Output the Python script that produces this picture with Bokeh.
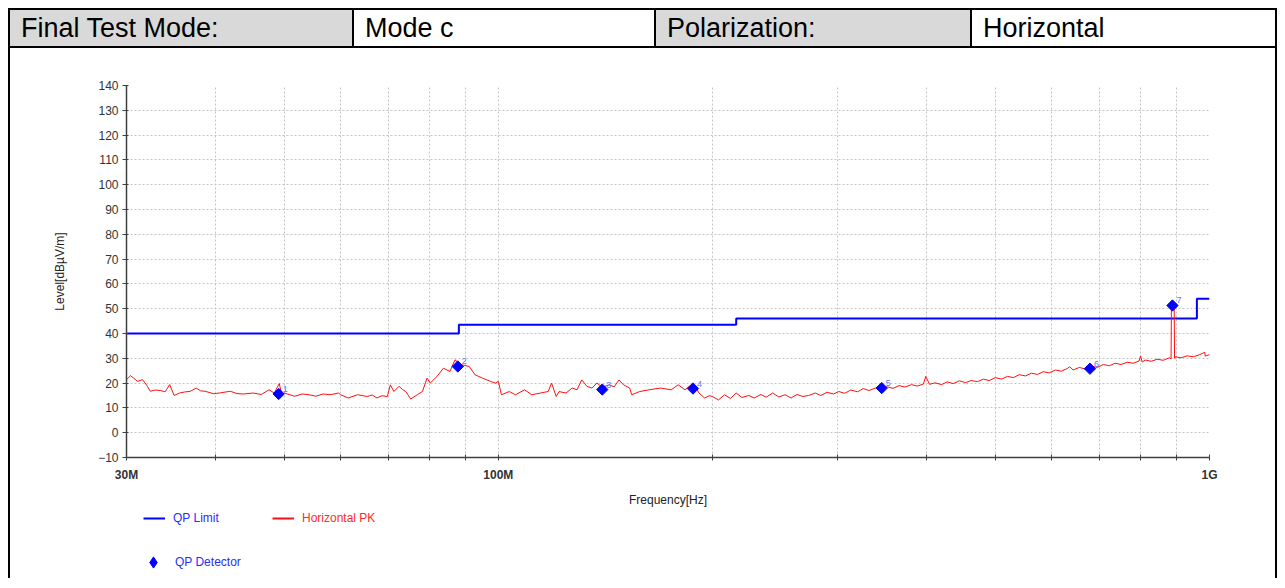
import numpy as np
from bokeh.plotting import figure
from bokeh.models import (Div, FixedTicker, Legend, LegendItem, ColumnDataSource, Range1d)
from bokeh.layouts import column, row
from bokeh.embed import file_html
from bokeh.resources import INLINE
from bokeh.core.properties import value

# ---------------- data ----------------
header_labels = ["Final Test Mode:", "Mode c", "Polarization:", "Horizontal"]

limit_freq_mhz = [30, 88, 216, 960, 1000]
limit_level = [40, 43.5, 46, 54, 54]

pk_freq_mhz = [
    30.0, 30.4, 30.7, 31.1, 31.6, 32.1, 32.4, 32.9, 33.5, 34.0, 34.5, 35.0, 35.6, 36.2, 36.9,
    37.6, 38.1, 38.7, 39.8, 40.7, 42.0, 42.9, 43.8, 45.2, 46.4, 47.6, 48.4, 49.2, 49.6, 50.0,
    51.7, 53.0, 54.2, 55.4, 56.7, 58.0, 59.6, 60.0, 61.5, 63.4, 65.4, 66.5, 67.5, 68.6, 69.8,
    70.5, 71.3, 72.5, 73.4, 74.1, 75.3, 76.9, 78.2, 79.4, 80.2, 82.0, 83.7, 85.5, 86.9, 88.4,
    91.0, 92.7, 95.0, 97.5, 99.0, 100.0, 101.0, 103.6, 105.7, 108.9, 111.4, 114.6, 117.5, 118.8, 120.6,
    121.7, 124.5, 127.0, 129.0, 131.0, 133.2, 135.4, 137.6, 140.0, 143.1, 145.5, 147.8, 150.0, 153.0, 154.0,
    158.0, 163.0, 169.0, 175.0, 179.0, 183.0, 188.0, 191.5, 195.0, 198.0,
    200, 204, 208, 212, 216, 220, 225, 229, 234, 238, 243, 248, 253, 258, 263, 268, 273, 279, 284, 290,
    296, 301, 307, 313, 320, 326, 332, 339, 345, 352, 359, 366, 373, 381, 388, 396, 399, 404, 411, 420,
    428, 436, 445, 454, 462, 472, 481, 490, 500, 510, 520, 530, 540, 551, 562, 573, 584, 595, 607, 619,
    631, 636, 643, 656, 669, 682, 695, 709, 723, 737, 751, 766, 781, 796, 800, 804, 812, 828, 844, 861,
    878, 883, 884, 892, 893, 895, 912, 930, 949, 967, 985, 986, 1000,
]
pk_level = [
    21.4, 23.0, 22.0, 20.7, 21.4, 18.7, 16.7, 17.2, 17.0, 16.5, 19.4, 15.0, 16.0, 16.4, 16.7,
    18.0, 16.9, 16.7, 15.7, 16.1, 16.7, 15.8, 15.6, 16.0, 15.4, 17.3, 16.0, 19.8, 15.2, 16.0,
    14.7, 15.6, 15.3, 14.7, 15.6, 15.3, 16.0, 15.3, 14.0, 15.3, 14.6, 15.2, 14.0, 14.9, 14.6,
    19.3, 16.6, 18.7, 17.3, 16.6, 13.6, 15.3, 16.6, 22.0, 20.0, 22.7, 26.0, 24.7, 29.4, 27.5,
    26.7, 23.4, 22.0, 20.7, 20.0, 20.7, 15.3, 16.6, 15.3, 17.3, 15.3, 16.0, 16.6, 20.0, 14.6,
    16.6, 16.0, 18.0, 17.3, 21.3, 18.7, 18.0, 20.0, 18.3, 19.3, 18.5, 21.3, 19.3, 18.0, 15.3,
    16.6, 17.3, 18.0, 17.3, 19.3, 17.3, 20.0, 16.0, 14.0, 14.9,
    14.6, 13.2, 15.3, 13.8, 16.0, 14.2, 15.0, 14.0, 15.4, 14.3, 16.0, 14.4, 15.3, 14.0, 15.4, 14.6, 15.0, 16.0, 15.0, 16.3,
    15.6, 16.6, 15.9, 17.2, 16.5, 17.8, 17.0, 18.0, 17.6, 18.5, 17.9, 19.0, 18.4, 19.4, 18.8, 19.6, 22.7, 19.5, 20.1, 19.4,
    20.5, 19.8, 20.9, 20.2, 21.0, 20.6, 21.6, 21.0, 22.2, 21.6, 22.7, 22.2, 23.4, 22.9, 24.0, 23.5, 24.6, 24.1, 25.3, 24.8,
    25.9, 26.6, 25.3, 26.3, 25.7, 26.9, 26.3, 27.5, 27.0, 28.0, 27.5, 28.4, 28.0, 28.9, 31.0, 28.5, 29.3, 28.8, 29.6, 29.2,
    30.2, 29.8, 51.0, 51.0, 30.0, 30.6, 30.2, 31.0, 30.6, 31.4, 32.4, 30.9, 31.5,
]

qp_freq_mhz = [49.1, 87.7, 140.0, 187.8, 346.0, 679.0, 887.0]
qp_level = [15.6, 26.7, 17.4, 17.8, 18.0, 25.8, 51.3]
qp_labels = ["1", "2", "3", "4", "5", "6", "7"]

y_ticks = [-10, 0, 10, 20, 30, 40, 50, 60, 70, 80, 90, 100, 110, 120, 130, 140]
x_ticks = [30, 40, 50, 60, 70, 80, 90, 100, 200, 300, 400, 500, 600, 700, 800, 900, 1000]
x_tick_labels = {30: "30M", 100: "100M", 1000: "1G"}

FONT = "Liberation Sans"
BLUE = "#0000ff"
RED = "#ff1010"

# ---------------- header ----------------
cells = [(2, 342, "#d9d9d9"), (346, 300, "#ffffff"), (648, 314, "#d9d9d9"), (964, 303, "#ffffff")]
html = ('<div style="position:relative;width:1269px;height:40px;background:#000;'
        'font-family:\'Liberation Sans\',Arial,sans-serif;font-size:27px;color:#000;">')
for (left, w, bg), txt in zip(cells, header_labels):
    html += ('<div style="position:absolute;top:2px;left:%dpx;width:%dpx;height:36px;'
             'background:%s;line-height:37px;padding-left:11px;box-sizing:border-box;'
             'white-space:nowrap;overflow:hidden;">%s</div>' % (left, w, bg, txt))
html += '</div>'
header = Div(text=html, width=1269, height=40, margin=0)

# ---------------- main figure ----------------
p = figure(width=1265, height=461, x_axis_type="log",
           x_range=Range1d(30, 1000), y_range=Range1d(-10, 140),
           output_backend="svg", toolbar_location=None,
           min_border_left=116, min_border_right=66, min_border_top=37, min_border_bottom=51,
           background_fill_color="white", border_fill_color="white", margin=0)
p.outline_line_color = None

r_lim = p.step(limit_freq_mhz, limit_level, mode="after", line_color=BLUE, line_width=2)
r_pk = p.line(pk_freq_mhz, pk_level, line_color=RED, line_width=1)
src = ColumnDataSource(dict(f=qp_freq_mhz, l=qp_level, t=qp_labels))
r_qp = p.scatter("f", "l", source=src, marker="square", size=8, angle=np.pi / 4,
                 fill_color=BLUE, line_color=BLUE)
p.text("f", "l", text="t", source=src, x_offset=4, y_offset=-5,
       text_font=value(FONT), text_font_size="9px", text_color="#5a78ff",
       text_align="left", text_baseline="middle")

xa = p.xaxis[0]
xa.ticker = FixedTicker(ticks=x_ticks, minor_ticks=[])
xa.major_label_overrides = {t: x_tick_labels.get(t, "") for t in x_ticks}
xa.axis_label = "Frequency[Hz]"
xa.axis_label_text_font = FONT
xa.axis_label_text_font_size = "12px"
xa.axis_label_text_font_style = "normal"
xa.axis_label_text_color = "#222222"
xa.axis_label_standoff = 8
xa.major_label_text_font = FONT
xa.major_label_text_font_size = "12px"
xa.major_label_text_font_style = "bold"
xa.major_label_text_color = "#333333"
xa.major_label_standoff = 7
xa.major_tick_in = 3
xa.major_tick_out = 3
xa.axis_line_color = "#404040"
xa.axis_line_width = 1.5
xa.major_tick_line_color = "#404040"

ya = p.yaxis[0]
ya.ticker = FixedTicker(ticks=y_ticks, minor_ticks=[])
ya.axis_label = "Level[dBµV/m]"
ya.axis_label_text_font = FONT
ya.axis_label_text_font_size = "12px"
ya.axis_label_text_font_style = "normal"
ya.axis_label_text_color = "#222222"
ya.axis_label_standoff = 28
ya.major_label_text_font = FONT
ya.major_label_text_font_size = "12px"
ya.major_label_text_color = "#333333"
ya.major_label_standoff = 4
ya.major_tick_in = 2
ya.major_tick_out = 4
ya.axis_line_color = "#404040"
ya.axis_line_width = 1.5
ya.major_tick_line_color = "#404040"

for g in (p.xgrid[0], p.ygrid[0]):
    g.grid_line_color = "#c4c4c4"
    g.grid_line_dash = "2 2"
    g.grid_line_width = 1

# ---------------- legend strip ----------------
lf = figure(width=1265, height=69, x_range=Range1d(0, 1), y_range=Range1d(0, 1),
            output_backend="svg", toolbar_location=None,
            x_axis_location=None, y_axis_location=None,
            min_border=0, min_border_left=0, min_border_right=0, min_border_top=0, min_border_bottom=0,
            background_fill_color="white", border_fill_color="white", margin=0)
lf.outline_line_color = None
lf.xgrid.visible = False
lf.ygrid.visible = False

# placeholder renderers (one hidden NaN point each) so the legend can draw their glyphs
lg_lim = lf.line(x=[np.nan], y=[np.nan], line_color=BLUE, line_width=2)
lg_pk = lf.line(x=[np.nan], y=[np.nan], line_color=RED, line_width=2)
lg_qp = lf.scatter(x=[np.nan], y=[np.nan], marker="diamond", fill_color=BLUE, line_color=BLUE)


def make_legend(label, rend, loc, color, gw, gh):
    lg = Legend(items=[LegendItem(label=label, renderers=[rend])], location=loc,
                padding=0, margin=0, border_line_color=None, background_fill_alpha=0,
                label_text_font=FONT, label_text_font_size="12px", label_text_color=color,
                glyph_width=gw, glyph_height=gh, label_standoff=8, label_height=gh)
    lf.add_layout(lg, "center")


make_legend("QP Limit", lg_lim, (17, 53), "#2a2aff", 22, 14)
make_legend("Horizontal PK", lg_pk, (146, 53), "#ff2a2a", 22, 14)
make_legend("QP Detector", lg_qp, (13, 2), "#2a2aff", 28, 28)

bar_l = Div(width=2, height=530, margin=0, styles={"background-color": "#000"})
bar_r = Div(width=2, height=530, margin=0, styles={"background-color": "#000"})

layout = column(header, row(bar_l, column(p, lf, spacing=0), bar_r, spacing=0),
                spacing=0, margin=(8, 8, 0, 8))

open("out.html", "w").write(file_html(layout, INLINE))
